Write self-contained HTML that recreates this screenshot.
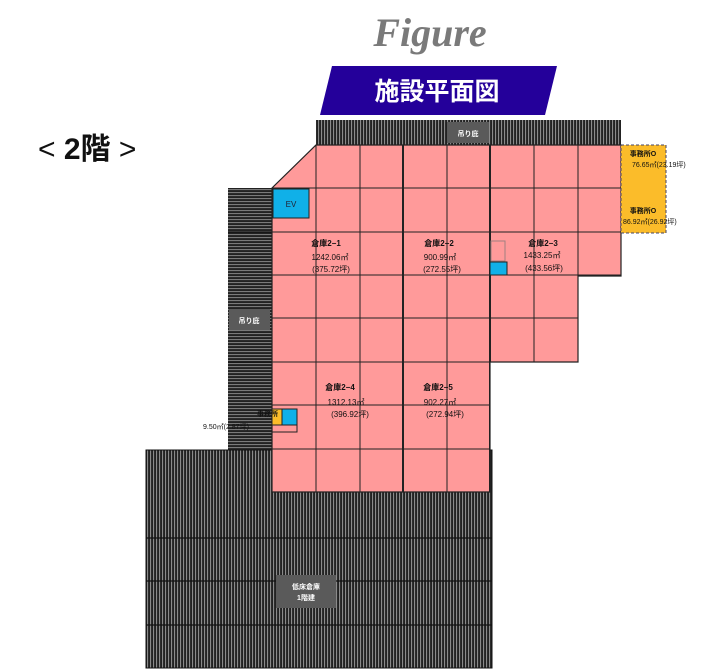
<!DOCTYPE html>
<html><head><meta charset="utf-8"><style>
body{margin:0;background:#fff;width:705px;height:672px;overflow:hidden}
svg{display:block}
text{font-family:"Liberation Sans","Noto Sans CJK JP",sans-serif}
</style></head><body>
<svg width="705" height="672" viewBox="0 0 705 672" xmlns="http://www.w3.org/2000/svg">
<defs>
<pattern id="vs" width="3" height="4" patternUnits="userSpaceOnUse"><rect width="3" height="4" fill="#222"/><rect width="1.1" height="4" fill="#8a8a8a"/></pattern>
<pattern id="hs" width="4" height="3" patternUnits="userSpaceOnUse"><rect width="4" height="3" fill="#222"/><rect width="4" height="1.1" fill="#7a7a7a"/></pattern>
<clipPath id="pk"><polygon points="316,145 621,145 621,276 578,276 578,362 490,362 490,492 272,492 272,188"/></clipPath>
</defs>
<text x="430" y="46" text-anchor="middle" font-style="italic" font-weight="bold" font-size="40" fill="#7a7a7a" style="font-family:'Liberation Serif',serif">Figure</text>
<polygon points="332,66 557,66 545,115 320,115" fill="#24009a"/>
<text x="437" y="100" text-anchor="middle" font-size="25" font-weight="bold" fill="#fff">施設平面図</text>
<text x="38" y="159" font-size="30" fill="#111">&lt; <tspan font-weight="bold">2階</tspan> &gt;</text>

<rect x="316" y="120" width="305" height="25" fill="url(#vs)"/>
<rect x="228" y="188" width="44" height="262" fill="url(#hs)"/>
<rect x="146" y="450" width="346" height="218" fill="url(#vs)"/>
<g stroke="#111" stroke-width="1.2">
<line x1="146" y1="538" x2="492" y2="538"/><line x1="146" y1="581" x2="492" y2="581"/><line x1="146" y1="625" x2="492" y2="625"/>
<line x1="228" y1="232" x2="272" y2="232"/><line x1="228" y1="362" x2="272" y2="362"/>
</g>
<rect x="146" y="450" width="346" height="218" fill="none" stroke="#111"/>

<polygon points="316,145 621,145 621,276 578,276 578,362 490,362 490,492 272,492 272,188" fill="#ff9a9a"/>
<g clip-path="url(#pk)" stroke="#222" stroke-width="1">
<line x1="316" y1="140" x2="316" y2="500"/><line x1="360" y1="140" x2="360" y2="500"/>
<line x1="403" y1="140" x2="403" y2="500" stroke-width="2"/><line x1="447" y1="140" x2="447" y2="500"/>
<line x1="490" y1="140" x2="490" y2="500" stroke-width="2"/><line x1="534" y1="140" x2="534" y2="500"/>
<line x1="578" y1="140" x2="578" y2="500"/>
<line x1="260" y1="188" x2="630" y2="188"/><line x1="260" y1="232" x2="630" y2="232"/>
<line x1="260" y1="275" x2="630" y2="275"/><line x1="260" y1="318" x2="630" y2="318"/>
<line x1="260" y1="362" x2="630" y2="362"/><line x1="260" y1="405" x2="630" y2="405"/>
<line x1="260" y1="449" x2="630" y2="449"/>
</g>
<polygon points="316,145 621,145 621,276 578,276 578,362 490,362 490,492 272,492 272,188" fill="none" stroke="#222" stroke-width="1.2"/>

<rect x="447" y="122" width="42" height="21" fill="#5a5a5a"/>
<text x="468" y="136" text-anchor="middle" font-size="7" font-weight="bold" fill="#fff">吊り庇</text>
<rect x="229" y="309" width="41" height="21" fill="#5a5a5a"/>
<text x="249" y="323" text-anchor="middle" font-size="7" font-weight="bold" fill="#fff">吊り庇</text>
<rect x="276" y="575" width="60" height="33" fill="#5a5a5a"/>
<text x="306" y="589" text-anchor="middle" font-size="7" font-weight="bold" fill="#fff">低床倉庫</text>
<text x="306" y="600" text-anchor="middle" font-size="7" font-weight="bold" fill="#fff">1階建</text>

<rect x="273" y="189" width="36" height="29" fill="#10b0e8" stroke="#222"/>
<text x="291" y="207" text-anchor="middle" font-size="8" fill="#223">EV</text>
<rect x="490" y="262" width="17" height="13" fill="#10b0e8" stroke="#222"/>
<rect x="491" y="241" width="14" height="20" fill="none" stroke="#a08080"/>

<rect x="621" y="145" width="45" height="88" fill="#fbbc2a" stroke="#446" stroke-dasharray="3,2"/>
<text x="643" y="156" text-anchor="middle" font-size="7" font-weight="bold" fill="#111">事務所O</text>
<text x="632" y="167" font-size="7" fill="#111">76.65㎡(23.19坪)</text>
<text x="643" y="213" text-anchor="middle" font-size="7" font-weight="bold" fill="#111">事務所O</text>
<text x="623" y="224" font-size="7" fill="#111">86.92㎡(26.92坪)</text>

<rect x="272" y="409" width="10" height="16" fill="#fbbc2a" stroke="#222"/>
<rect x="282" y="409" width="15" height="16" fill="#10b0e8" stroke="#222"/>
<rect x="272" y="425" width="25" height="7" fill="none" stroke="#222"/>
<text x="257" y="416" font-size="7" font-weight="bold" fill="#111">事務所</text>
<text x="203" y="429" font-size="7" fill="#111">9.50㎡(2.87坪)</text>

<g font-size="8" fill="#111" text-anchor="middle">
<text x="326" y="246" font-weight="bold">倉庫2−1</text><text x="330" y="260">1242.06㎡</text><text x="331" y="272">(375.72坪)</text>
<text x="439" y="246" font-weight="bold">倉庫2−2</text><text x="440" y="260">900.99㎡</text><text x="442" y="272">(272.55坪)</text>
<text x="543" y="246" font-weight="bold">倉庫2−3</text><text x="542" y="258">1433.25㎡</text><text x="544" y="271">(433.56坪)</text>
<text x="340" y="390" font-weight="bold">倉庫2−4</text><text x="346" y="405">1312.13㎡</text><text x="350" y="417">(396.92坪)</text>
<text x="438" y="390" font-weight="bold">倉庫2−5</text><text x="440" y="405">902.27㎡</text><text x="445" y="417">(272.94坪)</text>
</g>
</svg>
</body></html>
